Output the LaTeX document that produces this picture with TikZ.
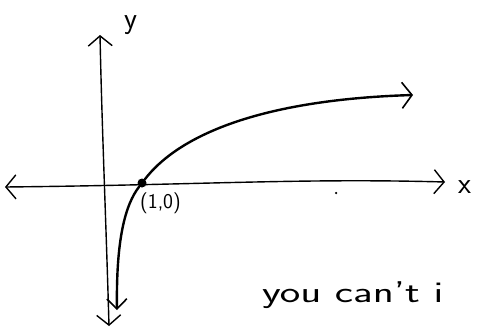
\documentclass[tikz,border=0pt]{standalone}
\usetikzlibrary{arrows.meta}
\begin{document}
\begin{tikzpicture}[x=1pt,y=-1pt,
  axis/.style={line width=1.4pt,{Straight Barb[length=10pt,width=24pt]}-{Straight Barb[length=10pt,width=24pt]}},
  curvestyle/.style={line width=2.4pt,line cap=round},
  hand/.style={font=\sffamily\fontsize{30}{34}\selectfont,inner sep=0pt}]
\useasboundingbox[fill=white] (0,0) rectangle (478,332);
\clip (0,0) rectangle (478,332);
\coordinate (xl) at (5,187);
\coordinate (xr) at (445,182);
\coordinate (yt) at (100,35);
\coordinate (yb) at (109,326);
\draw[axis] (xl) .. controls (200,185) and (300,178) .. (xr);
\draw[axis] (yb) .. controls (106,220) and (102,130) .. (yt);
\node[hand,anchor=base west] (xlab) at (458,193) {x};
\node[hand,anchor=base west] (ylab) at (124,28) {y};
\coordinate (cb) at (117,310);
\coordinate (ce) at (413,95);
\node[circle,fill=black,inner sep=0pt,minimum size=9pt] (p) at (142,183) {};
\draw[curvestyle,-{Straight Barb[length=10pt,width=20pt,line width=1.6pt]}] (p) .. controls (125,205) and (116,240) .. (cb);
\draw[curvestyle,-{Straight Barb[length=10pt,width=26pt,line width=1.6pt]}] (p) .. controls (175,140) and (250,100) .. (ce);
\node[font=\sffamily\fontsize{21}{24}\selectfont,inner sep=0pt,anchor=north west] (plab) at (140,193) {(1,0)};
\node[circle,fill=black,inner sep=0pt,minimum size=2.5pt] (dot) at (336,193) {};
\node[font=\sffamily\fontsize{30}{32}\selectfont,anchor=base west,inner sep=0pt] (txt) at (262,302) {\scalebox{1.45}[1]{you can't i}};
\end{tikzpicture}
\end{document}
